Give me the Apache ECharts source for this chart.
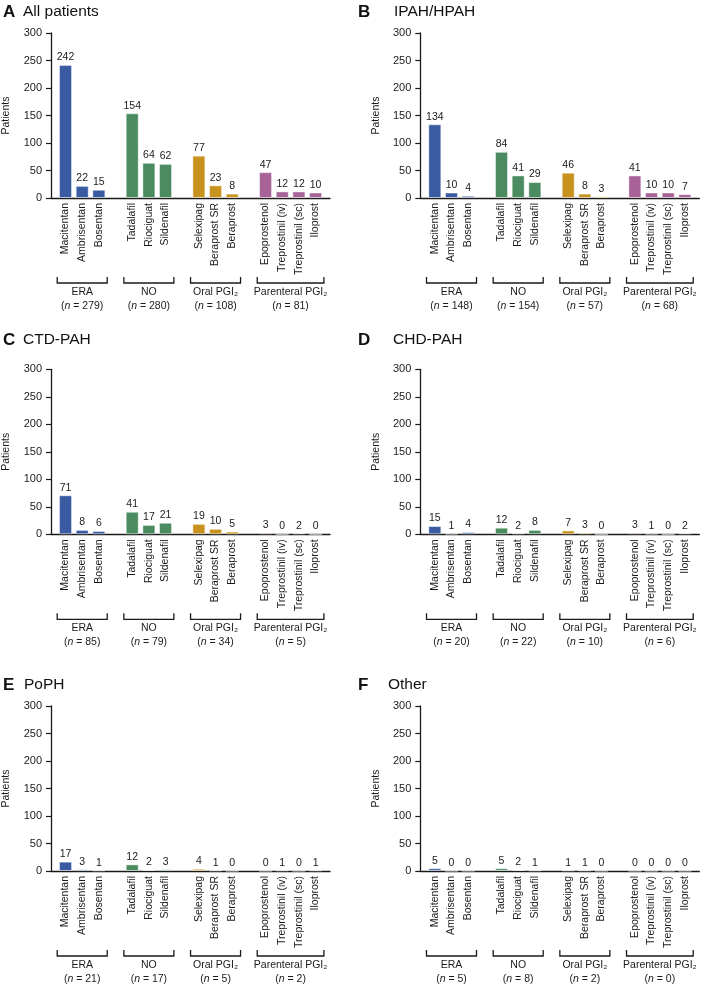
<!DOCTYPE html>
<html>
<head>
<meta charset="utf-8">
<script src="https://cdn.jsdelivr.net/npm/echarts@6/dist/echarts.min.js"></script>
<style>html,body{margin:0;padding:0;background:#fff;}#c{width:702px;height:986px;}</style>
</head>
<body>
<div id="c"></div>
<script>
// ---- data ----
const groupNames = ['ERA', 'NO', 'Oral PGI\u2082', 'Parenteral PGI\u2082'];
const groupDrugs = [
  ['Macitentan', 'Ambrisentan', 'Bosentan'],
  ['Tadalafil', 'Riociguat', 'Sildenafil'],
  ['Selexipag', 'Beraprost SR', 'Beraprost'],
  ['Epoprostenol', 'Treprostinil (iv)', 'Treprostinil (sc)', 'Iloprost']
];
const panelLetters = ['A', 'B', 'C', 'D', 'E', 'F'];
const panelTitles = ['All patients', 'IPAH/HPAH', 'CTD-PAH', 'CHD-PAH', 'PoPH', 'Other'];
const valuesA = [[242, 22, 15], [154, 64, 62], [77, 23, 8], [47, 12, 12, 10]];
const valuesB = [[134, 10, 4], [84, 41, 29], [46, 8, 3], [41, 10, 10, 7]];
const valuesC = [[71, 8, 6], [41, 17, 21], [19, 10, 5], [3, 0, 2, 0]];
const valuesD = [[15, 1, 4], [12, 2, 8], [7, 3, 0], [3, 1, 0, 2]];
const valuesE = [[17, 3, 1], [12, 2, 3], [4, 1, 0], [0, 1, 0, 1]];
const valuesF = [[5, 0, 0], [5, 2, 1], [1, 1, 0], [0, 0, 0, 0]];
const groupNA = [279, 280, 108, 81];
const groupNB = [148, 154, 57, 68];
const groupNC = [85, 79, 34, 5];
const groupND = [20, 22, 10, 6];
const groupNE = [21, 17, 5, 2];
const groupNF = [5, 8, 2, 0];
const yTicks = [0, 50, 100, 150, 200, 250, 300];

const panelValues = [valuesA, valuesB, valuesC, valuesD, valuesE, valuesF];
const panelN = [groupNA, groupNB, groupNC, groupND, groupNE, groupNF];

// ---- styles ----
const groupColors = ['#3A5BA2', '#4A8B5F', '#C8921F', '#A76398'];
const FONT = "'Liberation Sans', Arial, Helvetica, sans-serif";
const TXT = '#1a1a1a';

// build category list with blank separators
const categories = [];
const catGroup = [];
const groupRange = [];
groupDrugs.forEach((g, gi) => {
  if (gi > 0) { categories.push(' '.repeat(gi)); catGroup.push(-1); }
  const s = categories.length;
  g.forEach(d => { categories.push(d); catGroup.push(gi); });
  groupRange.push([s, categories.length - 1]);
});

// layout
const colX = [51, 420.3];
const titleLetterX = [3, 358];
const titleTextX = [[23, 394], [23, 393], [24, 388]];
const rowTop = [33, 369.3, 706];
const rowTitleY = [10.5, 338.8, 683.8];
const plotH = 165;
const outerW = 279;
const innerOff = 6.2;
const innerW = 266.7;

const option = {
  animation: false,
  textStyle: { fontFamily: FONT },
  title: [], grid: [], xAxis: [], yAxis: [], series: []
};

for (let p = 0; p < 6; p++) {
  const col = p % 2, row = Math.floor(p / 2);
  const left = colX[col], top = rowTop[row];
  option.title.push({
    text: panelLetters[p], left: titleLetterX[col], top: rowTitleY[row] - 7, padding: 0,
    textStyle: { fontSize: 17, fontWeight: 'bold', color: '#111', fontFamily: FONT }
  });
  option.title.push({
    text: panelTitles[p], left: titleTextX[row][col], top: rowTitleY[row] - 7, padding: 0,
    textStyle: { fontSize: 15.5, fontWeight: 'normal', color: '#111', fontFamily: FONT }
  });
  const gOuter = option.grid.length;
  option.grid.push({ left: left, top: top, width: outerW, height: plotH, containLabel: false });
  option.grid.push({ left: left + innerOff, top: top, width: innerW, height: plotH, containLabel: false });
  // outer axes
  option.xAxis.push({
    type: 'value', gridIndex: gOuter, min: 0, max: 1,
    axisLine: { show: true, lineStyle: { color: TXT, width: 1.3 } },
    axisTick: { show: false }, axisLabel: { show: false }, splitLine: { show: false }
  });
  option.yAxis.push({
    type: 'value', gridIndex: gOuter, min: yTicks[0], max: yTicks[yTicks.length - 1], interval: 50,
    name: 'Patients', nameLocation: 'middle', nameRotate: 90, nameGap: 39,
    nameTextStyle: { fontSize: 10.5, color: TXT, fontFamily: FONT },
    axisLine: { show: true, lineStyle: { color: TXT, width: 1.3 } },
    axisTick: { show: true, length: 5, lineStyle: { color: TXT, width: 1.2 } },
    axisLabel: { fontSize: 11, color: TXT, margin: 9, fontFamily: FONT },
    splitLine: { show: false }
  });
  // inner axes
  const xi = option.xAxis.length;
  option.xAxis.push({
    type: 'category', gridIndex: gOuter + 1, data: categories,
    axisLine: { show: false }, axisTick: { show: false }, splitLine: { show: false },
    axisLabel: { interval: 0, rotate: 90, fontSize: 10.5, color: TXT, margin: 5, fontFamily: FONT }
  });
  const yi = option.yAxis.length;
  option.yAxis.push({
    type: 'value', gridIndex: gOuter + 1, min: 0, max: 300, show: false, splitLine: { show: false }
  });
  const vals = panelValues[p];
  const data = [];
  categories.forEach((c, ci) => {
    const gi = catGroup[ci];
    if (gi < 0) { data.push(null); return; }
    const pos = ci - groupRange[gi][0];
    data.push({
      value: vals[gi][pos],
      itemStyle: { color: groupColors[gi] }
    });
  });
  option.series.push({
    type: 'bar', xAxisIndex: xi, yAxisIndex: yi, data: data, barWidth: 13,
    itemStyle: { borderColor: 'rgba(255,255,255,0.45)', borderWidth: 1 },
    label: { show: true, position: 'top', distance: 2, fontSize: 10.5, color: TXT, fontFamily: FONT },
    silent: true
  });
  const nArr = panelN[p];
  option.series.push({
    type: 'custom', xAxisIndex: xi, yAxisIndex: yi, silent: true, clip: false,
    data: groupRange.map((r, gi) => ({ value: [r[0], 0, r[1], gi] })),
    renderItem: function (params, api) {
      const s = api.value(0), e = api.value(2), gi = api.value(3);
      const half = api.size([1, 0])[0] / 2;
      const p0 = api.coord([s, 0]);
      const p1 = api.coord([e, 0]);
      const x1 = p0[0] - half, x2 = p1[0] + half, y0 = p0[1];
      const cx = (x1 + x2) / 2;
      return {
        type: 'group',
        children: [
          { type: 'polyline', shape: { points: [[x1, y0 + 79], [x1, y0 + 85], [x2, y0 + 85], [x2, y0 + 79]] },
            style: { stroke: TXT, lineWidth: 1.3, fill: null } },
          { type: 'text', style: { text: groupNames[gi], x: cx, y: y0 + 94, align: 'center', verticalAlign: 'middle',
            fontSize: 10.5, fontFamily: FONT, fill: TXT } },
          { type: 'text', style: { text: '({i|n} = ' + nArr[gi] + ')', x: cx, y: y0 + 108, align: 'center', verticalAlign: 'middle',
            fontSize: 10.5, fontFamily: FONT, fill: TXT,
            rich: { i: { fontStyle: 'italic', fontSize: 10.5, fontFamily: FONT, fill: TXT } } } }
        ]
      };
    }
  });
}

const chart = echarts.init(document.getElementById('c'));
chart.setOption(option);
</script>
</body>
</html>
